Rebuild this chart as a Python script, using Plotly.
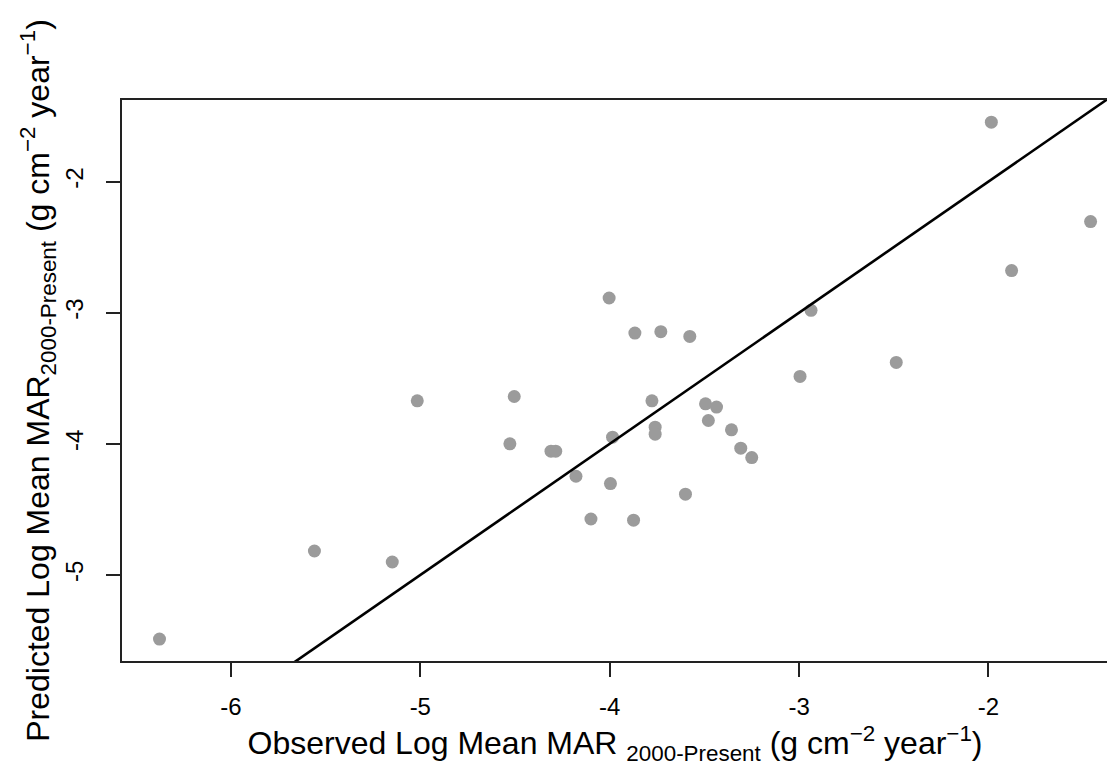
import plotly.graph_objects as go

observed = [-6.377, -5.559, -5.148, -5.016, -4.527, -4.504, -4.310, -4.285, -4.178, -4.099,
            -4.003, -3.985, -3.996, -3.874, -3.867, -3.730, -3.777, -3.760, -3.760, -3.600,
            -3.577, -3.494, -3.436, -3.479, -3.357, -3.308, -3.250, -2.995, -2.937, -2.487,
            -1.985, -1.878, -1.461]
predicted = [-5.489, -4.817, -4.901, -3.672, -4.000, -3.639, -4.056, -4.056, -4.247, -4.573,
             -2.888, -3.949, -4.303, -4.582, -3.155, -3.145, -3.672, -3.873, -3.926, -4.384,
             -3.181, -3.695, -3.720, -3.822, -3.893, -4.033, -4.105, -3.486, -2.982, -3.379,
             -1.547, -2.679, -2.305]
one_to_one = [-7.0, 0.0]
x_ticks = [-6, -5, -4, -3, -2]
y_ticks = [-5, -4, -3, -2]

fig = go.Figure()
fig.add_trace(go.Scatter(x=observed, y=predicted, mode="markers",
                         marker=dict(color="#9b9b9b", size=13, line=dict(width=0)),
                         showlegend=False, hoverinfo="x+y"))
fig.add_trace(go.Scatter(x=one_to_one, y=one_to_one, mode="lines",
                         line=dict(color="black", width=2.6), showlegend=False))

font_family = "Liberation Sans, Arial, sans-serif"
# the page body has an 8px default margin, so the figure is sized/offset to compensate
fig.update_layout(
    width=1107, height=760,
    margin=dict(l=114, r=7, t=92, b=107),
    paper_bgcolor="white", plot_bgcolor="white",
    font=dict(family=font_family, color="black"),
    xaxis=dict(
        range=[-6.575, -1.369], tickvals=x_ticks, ticktext=[str(v) for v in x_ticks],
        showgrid=False, zeroline=False, showline=True, linecolor="#222", linewidth=1.5,
        mirror=True, ticks="outside", ticklen=14, tickwidth=1.5, tickcolor="#222",
        automargin=False, ticklabelstandoff=9,
        tickfont=dict(size=24, family=font_family),
        title=dict(text="Observed Log Mean MAR <sub>2000-Present</sub> (g cm<sup>−2</sup> year<sup>−1</sup>)",
                   font=dict(size=32, family=font_family), standoff=13),
    ),
    yaxis=dict(
        range=[-5.656, -1.378], tickvals=y_ticks, ticktext=[str(v) for v in y_ticks],
        showgrid=False, zeroline=False, showline=True, linecolor="#222", linewidth=1.5,
        mirror=True, ticks="outside", ticklen=14, tickwidth=1.5, tickcolor="#222",
        automargin=False, ticklabelstandoff=14,
        tickangle=-90, tickfont=dict(size=24, family=font_family),
        title=dict(text="Predicted Log Mean MAR<sub>2000-Present</sub> (g cm<sup>−2</sup> year<sup>−1</sup>)",
                   font=dict(size=32, family=font_family), standoff=1),
    ),
)

fig.write_html("out.html")
